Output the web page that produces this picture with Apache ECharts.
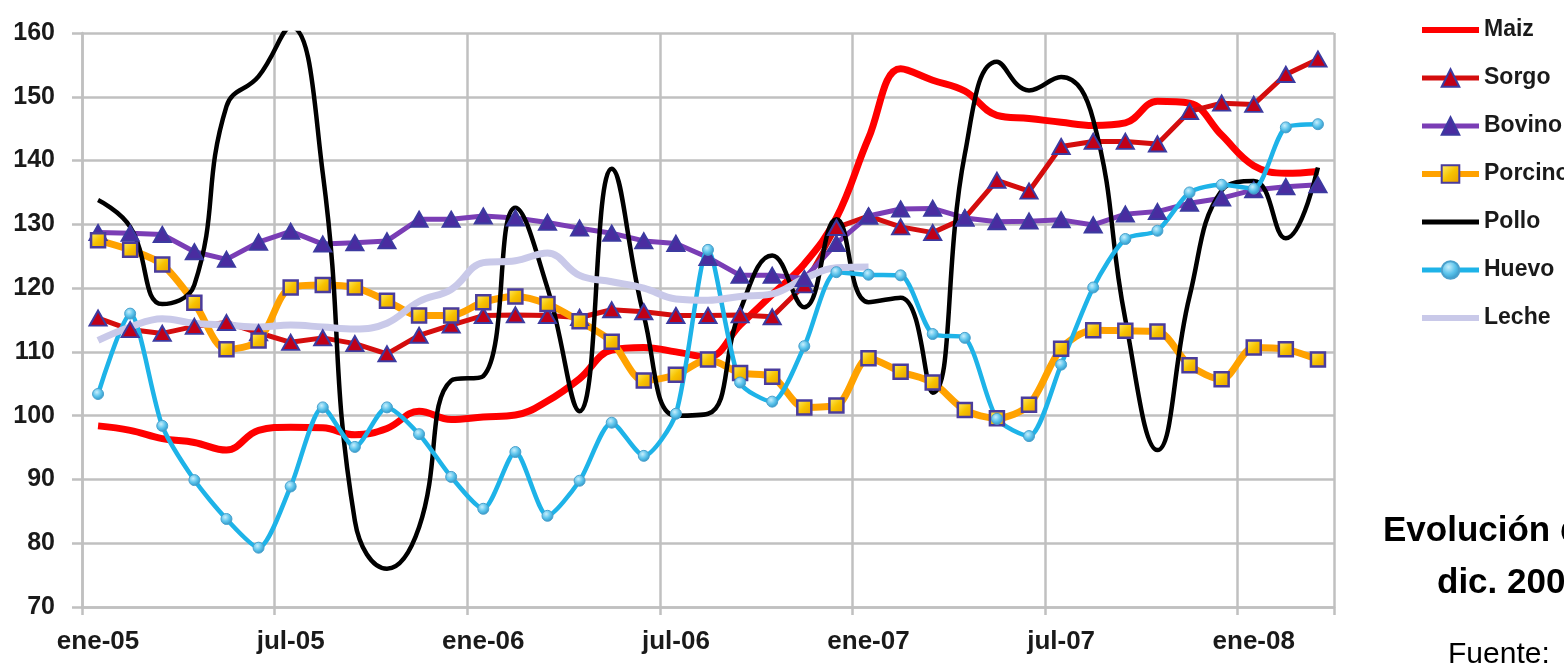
<!DOCTYPE html>
<html>
<head>
<meta charset="utf-8">
<script src="https://cdn.jsdelivr.net/npm/echarts@6/dist/echarts.min.js"></script>
<style>
html,body{margin:0;padding:0;background:#fff;}
#chart{width:1564px;height:664px;}
</style>
</head>
<body>
<div id="chart"></div>
<script>
const months = ['ene','feb','mar','abr','may','jun','jul','ago','sep','oct','nov','dic'];
const categories = [];
for (let y = 5; y <= 8; y++) {
  for (let m = 0; m < 12; m++) {
    if (y === 8 && m > 2) break;
    categories.push(months[m] + '-0' + y);
  }
}

const maiz = [98.4, 97.7, 96.4, 95.8, 94.6, 97.7, 98.2, 98.1, 97.0, 98.0, 100.7, 99.4, 99.8, 100.1, 102.3, 105.8, 110.3, 110.7, 110.0, 109.2, 114.2, 119.0, 123.8, 131.0, 143.5, 154.4, 152.6, 150.9, 147.1, 146.6, 146.0, 145.5, 145.9, 149.3, 149.0, 144.0, 139.2, 138.0, 138.3];
const sorgo = [115.3, 113.5, 112.9, 114.0, 114.6, 113.0, 111.5, 112.2, 111.3, 109.7, 112.6, 114.2, 115.7, 115.8, 115.7, 115.4, 116.6, 116.3, 115.7, 115.7, 115.8, 115.5, 120.5, 129.5, 131.3, 129.6, 128.7, 131.0, 136.9, 135.2, 142.2, 143.0, 143.0, 142.6, 147.7, 149.0, 148.8, 153.5, 155.9];
const bovino = [128.7, 128.6, 128.4, 125.7, 124.5, 127.2, 128.9, 126.9, 127.1, 127.4, 130.8, 130.8, 131.3, 131.0, 130.3, 129.4, 128.6, 127.4, 127.0, 124.8, 122.0, 122.0, 121.5, 127.0, 131.3, 132.4, 132.5, 131.0, 130.4, 130.5, 130.7, 129.9, 131.6, 132.0, 133.3, 134.1, 135.4, 135.9, 136.2];
const porcino = [127.5, 126.0, 123.7, 117.7, 110.4, 111.8, 120.1, 120.5, 120.1, 118.0, 115.7, 115.7, 117.8, 118.7, 117.5, 114.8, 111.6, 105.5, 106.4, 108.8, 106.7, 106.1, 101.3, 101.6, 109.0, 106.9, 105.2, 100.9, 99.6, 101.7, 110.5, 113.4, 113.3, 113.2, 107.9, 105.7, 110.7, 110.4, 108.8];
const pollo = [133.8, 129.6, 117.5, 120.5, 148.5, 153.2, 161.0, 138.0, 83.5, 76.0, 82.5, 105.5, 106.2, 132.6, 120.0, 100.7, 138.7, 115.7, 100.0, 100.3, 116.5, 125.1, 117.0, 130.8, 117.8, 118.5, 103.6, 141.0, 155.5, 151.0, 153.1, 146.4, 115.1, 94.6, 118.7, 135.3, 136.8, 127.8, 138.9];
const huevo = [103.4, 116.0, 98.4, 89.9, 83.8, 79.3, 88.9, 101.3, 95.1, 101.3, 97.1, 90.4, 85.4, 94.3, 84.3, 89.8, 98.9, 93.7, 100.3, 126.0, 105.2, 102.2, 110.9, 122.5, 122.1, 122.0, 112.8, 112.2, 99.5, 96.8, 108.0, 120.1, 127.7, 129.0, 135.0, 136.2, 135.6, 145.2, 145.7];
const leche = [111.8, 113.9, 115.2, 114.5, 114.2, 113.9, 114.2, 113.9, 113.6, 114.5, 117.9, 119.8, 124.0, 124.3, 125.5, 122.0, 121.0, 120.0, 118.3, 118.1, 118.7, 119.1, 121.5, 123.2, 123.3];

const yTicks = [70, 80, 90, 100, 110, 120, 130, 140, 150, 160];

const FONT = "'Liberation Sans', Arial, sans-serif";
const GRID = '#c0c0c0';

const chart = echarts.init(document.getElementById('chart'), null, {renderer: 'canvas'});

const squareFill = new echarts.graphic.LinearGradient(0, 0, 1, 1, [
  {offset: 0, color: '#fff27a'}, {offset: 0.5, color: '#f7c300'}, {offset: 1, color: '#e89a00'}
]);
const ballFill = new echarts.graphic.RadialGradient(0.4, 0.35, 0.7, [
  {offset: 0, color: '#c8eefc'}, {offset: 0.5, color: '#5cc4ec'}, {offset: 1, color: '#2a8fc0'}
]);

chart.setOption({
  animation: false,
  grid: {left: 82, right: 230, top: 33, bottom: 57, containLabel: false},
  legend: {
    orient: 'vertical',
    left: 1414,
    top: 11,
    itemWidth: 57,
    itemHeight: 22,
    itemGap: 20,
    textStyle: {fontFamily: FONT, fontWeight: 'bold', fontSize: 23, lineHeight: 28, color: '#1a1a1a'},
    data: [
      {name: 'Maiz', lineStyle: {width: 6}, itemStyle: {opacity: 0}},
      {name: 'Sorgo', lineStyle: {width: 5}},
      {name: 'Bovino', lineStyle: {width: 5}},
      {name: 'Porcino', lineStyle: {width: 6}},
      {name: 'Pollo', lineStyle: {width: 5}, itemStyle: {opacity: 0}},
      {name: 'Huevo', lineStyle: {width: 5}},
      {name: 'Leche', lineStyle: {width: 6}, itemStyle: {opacity: 0}}
    ]
  },
  xAxis: {
    type: 'category',
    data: categories,
    boundaryGap: true,
    axisLine: {show: true, lineStyle: {color: GRID, width: 2.5}},
    axisTick: {show: true, interval: 5, length: 8, lineStyle: {color: GRID, width: 2.5}},
    axisLabel: {interval: 5, margin: 22, fontFamily: FONT, fontWeight: 'bold', fontSize: 26, color: '#1a1a1a'},
    splitLine: {show: true, interval: 5, lineStyle: {color: GRID, width: 2.5}}
  },
  yAxis: {
    type: 'value',
    min: yTicks[0],
    max: yTicks[yTicks.length - 1],
    interval: 10,
    axisLine: {show: true, lineStyle: {color: GRID, width: 2.5}},
    axisTick: {show: true, length: 10, lineStyle: {color: GRID, width: 2.5}},
    axisLabel: {margin: 27, fontFamily: FONT, fontWeight: 'bold', fontSize: 25, color: '#1a1a1a'},
    splitLine: {show: true, lineStyle: {color: GRID, width: 2.5}}
  },
  series: [
    {name: 'Maiz', type: 'line', data: maiz, smooth: 0.4, symbol: 'none',
     lineStyle: {color: '#ff0000', width: 7}, itemStyle: {color: '#ff0000'}},
    {name: 'Sorgo', type: 'line', data: sorgo, smooth: false, symbol: 'triangle', symbolSize: [17, 15], showAllSymbol: true,
     lineStyle: {color: '#d40d0d', width: 5}, itemStyle: {color: '#c00018', borderColor: '#3c3aa0', borderWidth: 2}},
    {name: 'Bovino', type: 'line', data: bovino, smooth: false, symbol: 'triangle', symbolSize: [17, 15], showAllSymbol: true,
     lineStyle: {color: '#7a3db5', width: 5}, itemStyle: {color: '#4a2ca0', borderColor: '#3c3aa0', borderWidth: 2}},
    {name: 'Porcino', type: 'line', data: porcino, smooth: 0.3, symbol: 'rect', symbolSize: 14, showAllSymbol: true,
     lineStyle: {color: '#ffa200', width: 7}, itemStyle: {color: squareFill, borderColor: '#4a3c9c', borderWidth: 2.5}},
    {name: 'Pollo', type: 'line', data: pollo, smooth: 0.45, symbol: 'none',
     lineStyle: {color: '#000000', width: 4.5}, itemStyle: {color: '#000000'}},
    {name: 'Huevo', type: 'line', data: huevo, smooth: 0.25, symbol: 'circle', symbolSize: 11, showAllSymbol: true,
     lineStyle: {color: '#1eb3e8', width: 4.5}, itemStyle: {color: ballFill, borderColor: '#4aa0cc', borderWidth: 1}},
    {name: 'Leche', type: 'line', data: leche, smooth: 0.4, symbol: 'none',
     lineStyle: {color: '#c9c9e9', width: 7}, itemStyle: {color: '#c9c9e9'}}
  ],
  graphic: [
    {type: 'text', left: 1383, top: 514, style: {text: 'Evolución de', font: "bold 35px 'Liberation Sans', Arial, sans-serif", fill: '#000'}},
    {type: 'text', left: 1437, top: 566, style: {text: 'dic. 2007', font: "bold 35px 'Liberation Sans', Arial, sans-serif", fill: '#000'}},
    {type: 'text', left: 1448, top: 640, style: {text: 'Fuente:', font: "30px 'Liberation Sans', Arial, sans-serif", fill: '#000'}}
  ]
});
</script>
</body>
</html>
